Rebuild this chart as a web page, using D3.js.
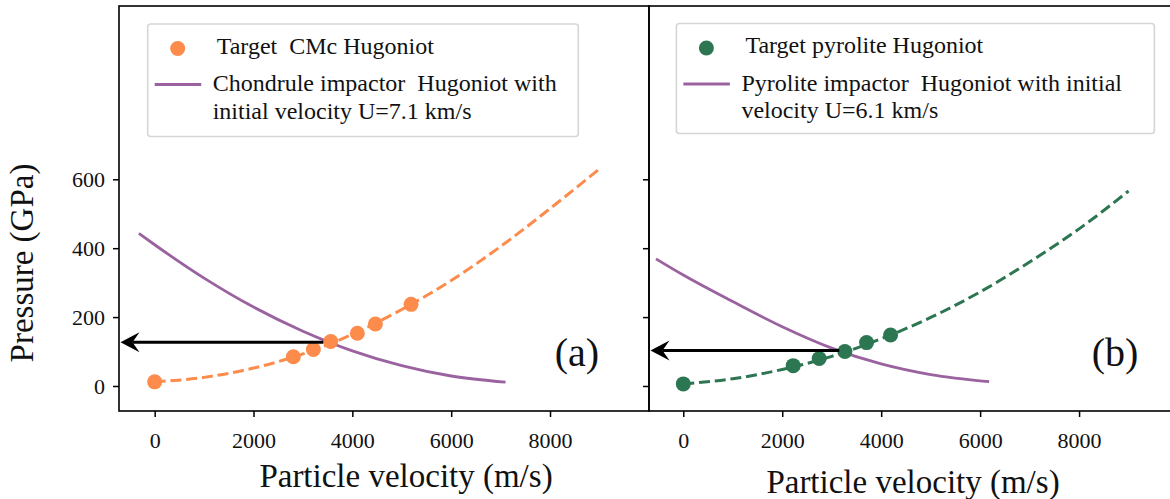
<html>
<head>
    <style>
        body {
            margin: 0;
            background: white;
            font-family: "Liberation Serif", "Times New Roman", serif;
        }
        text {
            font-family: "Liberation Serif", "Times New Roman", serif;
            fill: #111;
        }
        .legend text {
            white-space: pre;
        }
    </style>
    <script src="https://cdn.jsdelivr.net/npm/d3@7"></script>
</head>
<body>
    <svg id="chart"></svg>
</body>
<script>
    // tick values
    let velTicks = [0, 2000, 4000, 6000, 8000]
    let presTicks = [0, 200, 400, 600]

    // panel (a): CMc target and chondrule impactor
    let cmcU = [0, 2806, 3211, 3563, 4101, 4466, 5188]
    let cmcP = [12, 85, 106, 129, 153, 180, 237]
    let cmcFitU = [0, 1000, 2000, 3000, 4000, 5000, 6000, 7000, 8000, 9000]
    let cmcFitP = [12, 25, 52, 93, 150, 222, 306, 405, 515, 630]
    let chondU = [-320, 0, 1000, 2000, 3000, 4000, 5000, 6000, 7100]
    let chondP = [443, 410, 313, 229, 159, 102, 59, 29, 11]
    let arrowA = [3413, 127]

    // panel (b): pyrolite target and pyrolite impactor
    let pyrU = [0, 2222, 2747, 3267, 3705, 4190]
    let pyrP = [6, 59, 80, 100, 126, 148]
    let pyrFitU = [0, 1000, 2000, 3000, 4000, 5000, 6000, 7000, 8000, 9000]
    let pyrFitP = [6, 21, 48, 86, 137, 199, 273, 360, 456, 566]
    let impU = [-552, 0, 1000, 2000, 3000, 4000, 5000, 6182]
    let impP = [369, 322, 245, 172, 110, 64, 33, 12.5]
    let arrowB = [3152, 103]

    let orange = "#fc8b4c"
    let green = "#2d7652"
    let purple = "#9b62a0"

    let width = 1170, height = 499
    let svg = d3.select("#chart").attr("width", width).attr("height", height)

    let y = d3.scaleLinear().domain([-72.6, 1103]).range([411, 6])

    function zip(a, b) {
        return a.map((d, i) => [d, b[i]])
    }

    function drawPanel(cfg) {
        let x = d3.scaleLinear().domain(cfg.domain).range(cfg.range)
        let g = svg.append("g")
        let clip = "clip" + cfg.name
        g.append("clipPath").attr("id", clip)
            .append("rect")
            .attr("x", cfg.range[0]).attr("y", 6)
            .attr("width", cfg.range[1] - cfg.range[0]).attr("height", 405)

        let line = d3.line()
            .x(d => x(d[0]))
            .y(d => y(d[1]))
            .curve(d3.curveMonotoneX)

        let plot = g.append("g").attr("clip-path", `url(#${clip})`)

        // impactor hugoniot
        plot.append("path")
            .datum(zip(cfg.impU, cfg.impP))
            .attr("d", line)
            .attr("fill", "none")
            .attr("stroke", purple)
            .attr("stroke-width", 2.8)

        // target fit (dashed)
        plot.append("path")
            .datum(zip(cfg.fitU, cfg.fitP))
            .attr("d", line)
            .attr("fill", "none")
            .attr("stroke", cfg.color)
            .attr("stroke-width", 3)
            .attr("stroke-dasharray", "11,4.8")

        plot.selectAll("circle.pt")
            .data(zip(cfg.ptU, cfg.ptP))
            .enter().append("circle")
            .attr("class", "pt")
            .attr("cx", d => x(d[0]))
            .attr("cy", d => y(d[1]))
            .attr("r", 7.5)
            .attr("fill", cfg.color)

        // arrow from intersection to the pressure axis
        let tipX = cfg.range[0] + 1.5
        let ay = y(cfg.arrow[1])
        plot.append("line")
            .attr("x1", x(cfg.arrow[0]))
            .attr("x2", tipX + 12)
            .attr("y1", ay).attr("y2", ay)
            .attr("stroke", "black")
            .attr("stroke-width", 3)
        plot.append("path")
            .attr("d", `M${tipX},${ay}L${tipX + 19},${ay - 10}L${tipX + 12},${ay}L${tipX + 19},${ay + 10}Z`)
            .attr("fill", "black")

        // axes
        let xAxis = g.append("g")
            .attr("transform", "translate(0,411)")
            .call(d3.axisBottom(x).tickValues(velTicks).tickSize(6).tickPadding(15).tickFormat(d3.format("d")))
        xAxis.select(".domain").remove()
        xAxis.selectAll("line").attr("stroke", "black").attr("stroke-width", 1.5)
        xAxis.selectAll("text").attr("font-size", 22)
            .attr("font-family", "Liberation Serif").attr("fill", "#111")

        let yAxis = g.append("g")
            .attr("transform", `translate(${cfg.range[0]},0)`)
            .call(d3.axisLeft(y).tickValues(presTicks).tickSize(6).tickPadding(8)
                .tickFormat(cfg.yLabels ? d3.format("d") : ""))
        yAxis.select(".domain").remove()
        yAxis.selectAll("line").attr("stroke", "black").attr("stroke-width", 1.5)
        yAxis.selectAll("text").attr("font-size", 22)
            .attr("font-family", "Liberation Serif").attr("fill", "#111")

        // frame
        g.append("rect")
            .attr("x", cfg.range[0]).attr("y", 6)
            .attr("width", cfg.range[1] - cfg.range[0]).attr("height", 405)
            .attr("fill", "none")
            .attr("stroke", "black")
            .attr("stroke-width", 1.6)

        g.append("text")
            .attr("x", cfg.tag[0]).attr("y", cfg.tag[1])
            .attr("text-anchor", "middle")
            .attr("font-size", 40)
            .text(cfg.tagText)

        g.append("text")
            .attr("x", cfg.xlab[0]).attr("y", cfg.xlab[1])
            .attr("text-anchor", "middle")
            .attr("font-size", 33)
            .text("Particle velocity (m/s)")

        // legend
        let lg = g.append("g").attr("class", "legend")
            .attr("transform", `translate(${cfg.legend[0]},${cfg.legend[1]})`)
        lg.append("rect")
            .attr("width", cfg.legend[2]).attr("height", cfg.legend[3])
            .attr("rx", 3)
            .attr("fill", "white").attr("fill-opacity", 0.8)
            .attr("stroke", "#d6d6d6").attr("stroke-width", 1.6)
        lg.append("circle")
            .attr("cx", 30).attr("cy", 24.5).attr("r", 7.5)
            .attr("fill", cfg.color)
        lg.append("text")
            .attr("x", 69).attr("y", 29.5)
            .attr("font-size", 24)
            .text(cfg.labels[0])
        lg.append("line")
            .attr("x1", 7).attr("x2", 53.5)
            .attr("y1", 60.5).attr("y2", 60.5)
            .attr("stroke", purple).attr("stroke-width", 2.8)
        lg.append("text")
            .attr("x", 65).attr("y", 67)
            .attr("font-size", 24)
            .text(cfg.labels[1])
        lg.append("text")
            .attr("x", 65).attr("y", 94.5)
            .attr("font-size", 24)
            .text(cfg.labels[2])
    }

    drawPanel({
        name: "a", domain: [-722, 10003], range: [119, 649],
        ptU: cmcU, ptP: cmcP, fitU: cmcFitU, fitP: cmcFitP,
        impU: chondU, impP: chondP, arrow: arrowA,
        color: orange, yLabels: true,
        tag: [577, 366], tagText: "(a)", xlab: [406, 487],
        legend: [147.7, 24, 430.6, 112.5],
        labels: ["Target  CMc Hugoniot", "Chondrule impactor  Hugoniot with", "initial velocity U=7.1 km/s"]
    })

    drawPanel({
        name: "b", domain: [-693, 10040], range: [649, 1180],
        ptU: pyrU, ptP: pyrP, fitU: pyrFitU, fitP: pyrFitP,
        impU: impU, impP: impP, arrow: arrowB,
        color: green, yLabels: false,
        tag: [1115, 366], tagText: "(b)", xlab: [913, 493],
        legend: [676.4, 23.5, 478, 110],
        labels: ["Target pyrolite Hugoniot", "Pyrolite impactor  Hugoniot with initial", "velocity U=6.1 km/s"]
    })

    svg.append("text")
        .attr("transform", "translate(33,263) rotate(-90)")
        .attr("text-anchor", "middle")
        .attr("font-size", 33)
        .text("Pressure (GPa)")
</script>
</html>
